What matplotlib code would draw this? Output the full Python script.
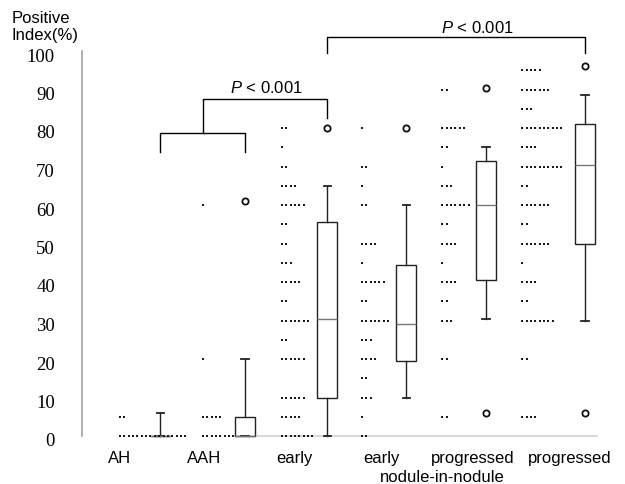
import matplotlib.pyplot as plt
import matplotlib.transforms as mtransforms
import numpy as np

plt.rcParams['font.family'] = ['Liberation Sans', 'DejaVu Sans']
plt.rcParams['mathtext.fontset'] = 'custom'
plt.rcParams['mathtext.it'] = 'Liberation Sans:italic'
plt.rcParams['mathtext.rm'] = 'Liberation Sans'

groups = ['AH', 'AAH', 'early', 'early', 'progressed', 'progressed']
y_ticks = [0, 10, 20, 30, 40, 50, 60, 70, 80, 90, 100]

# dot rows: value and number of cases at that value
ah_vals = [0, 5]
ah_counts = [16, 2]
aah_vals = [0, 5, 20, 60]
aah_counts = [8, 5, 1, 1]
early_vals = [0, 5, 10, 20, 25, 30, 35, 40, 45, 50, 55, 60, 65, 70, 75, 80]
early_counts = [8, 5, 6, 6, 2, 7, 2, 5, 3, 2, 2, 6, 4, 2, 1, 2]
enin_vals = [0, 5, 10, 15, 20, 25, 30, 35, 40, 45, 50, 60, 65, 70, 80]
enin_counts = [2, 1, 3, 2, 4, 3, 7, 2, 6, 1, 4, 2, 1, 2, 1]
pnin_vals = [5, 20, 30, 35, 40, 45, 50, 55, 60, 65, 70, 75, 80, 90]
pnin_counts = [2, 2, 3, 2, 4, 1, 4, 2, 7, 3, 1, 2, 6, 2]
prog_vals = [5, 20, 30, 35, 40, 45, 50, 55, 60, 65, 70, 75, 80, 85, 90, 95]
prog_counts = [4, 2, 8, 2, 4, 1, 7, 2, 7, 2, 10, 4, 10, 3, 7, 5]

# box plot summaries
box_med = [0, 0, 30.5, 29, 60, 70.5]
box_q1 = [0, 0, 10, 19.5, 40.5, 50]
box_q3 = [0, 5, 55.5, 44.5, 71.5, 81]
box_lo = [0, 0, 0, 10, 30.5, 30]
box_hi = [6, 20, 65, 60, 75, 88.5]
box_out = [[], [61], [80], [80], [6, 90.5], [6, 96]]

# layout (x in group units)
dot_x = [0, 1.03, 2.01, 3.0, 4.0, 4.99]
box_x = [0.5, 1.55, 2.57, 3.55, 4.54, 5.77]
label_x = [0, 1.04, 2.17, 3.24, 4.38, 5.58]
dot_step = 0.054

fig = plt.figure(figsize=(6.25, 4.84), dpi=100)
ax = fig.add_axes([82/625, 48/484, 528/625, 385/484])
ax.set_xlim(-0.4715, 6.079)
ax.set_ylim(0, 100)

all_vals = [ah_vals, aah_vals, early_vals, enin_vals, pnin_vals, prog_vals]
all_counts = [ah_counts, aah_counts, early_counts, enin_counts, pnin_counts, prog_counts]

# faint baseline
ax.plot([box_x[1] + 0.12, box_x[5] + 0.15], [0, 0], color='#d2d2d2', lw=1.2, zorder=0, clip_on=False)

for i in range(6):
    xs, ys = [], []
    for v, c in zip(all_vals[i], all_counts[i]):
        for k in range(c):
            xs.append(dot_x[i] + k * dot_step)
            ys.append(v)
    ax.plot(xs, ys, 's', color='#1a1a1a', ms=1.6, mew=0, clip_on=False, zorder=3)

stats = []
for i in range(6):
    stats.append({'med': box_med[i], 'q1': box_q1[i], 'q3': box_q3[i],
                  'whislo': box_lo[i], 'whishi': box_hi[i], 'fliers': box_out[i]})

bp = ax.bxp(stats, positions=box_x, widths=0.24, capwidths=0.09, patch_artist=True,
            boxprops=dict(facecolor='white', edgecolor='#222222', lw=1),
            medianprops=dict(color='#777777', lw=1),
            whiskerprops=dict(color='#222222', lw=1),
            capprops=dict(color='#222222', lw=1.3),
            flierprops=dict(marker='o', markerfacecolor='none', markeredgecolor='#111111',
                            ms=4.5, mew=1.3))
for key in bp:
    for art in bp[key]:
        art.set_clip_on(False)

# significance brackets
lk = dict(color='black', lw=1, clip_on=False)
mid1 = (box_x[0] + box_x[1]) / 2
ax.plot([box_x[0], box_x[0], box_x[1], box_x[1]], [73.8, 78.7, 78.7, 73.8], **lk)
ax.plot([mid1, mid1, box_x[2], box_x[2]], [78.7, 87.5, 87.5, 82.6], **lk)
ax.plot([box_x[2], box_x[2], box_x[5], box_x[5]], [99.5, 103.6, 103.6, 99.5], **lk)
ax.text(1.82, 90.4, r'$\it{P}$ < 0.001', ha='center', va='center', fontsize=12)
ax.text(4.43, 106.0, r'$\it{P}$ < 0.001', ha='center', va='center', fontsize=12)

# axes styling
for s in ['top', 'right', 'bottom']:
    ax.spines[s].set_visible(False)
ax.spines['left'].set_color('#a0a0a0')
ax.spines['left'].set_linewidth(1.2)
ax.set_yticks(y_ticks)
ax.set_yticklabels([str(t) for t in y_ticks], family='Liberation Serif', fontsize=13.5)
ax.tick_params(axis='y', length=0, pad=19.5)
off = mtransforms.ScaledTranslation(0, -4/100, fig.dpi_scale_trans)
for lab in ax.get_yticklabels():
    lab.set_transform(lab.get_transform() + off)

ax.set_xticks(label_x)
ax.set_xticklabels(groups, fontsize=12)
ax.tick_params(axis='x', length=0, pad=11)
ax.text(4.0, -10.9, 'nodule-in-nodule', ha='center', va='center', fontsize=12)

fig.text(12/625, 1 - 11/484, 'Positive\nIndex(%)', ha='left', va='top', fontsize=12, linespacing=1.15)

fig.savefig('out.png', dpi=100)
